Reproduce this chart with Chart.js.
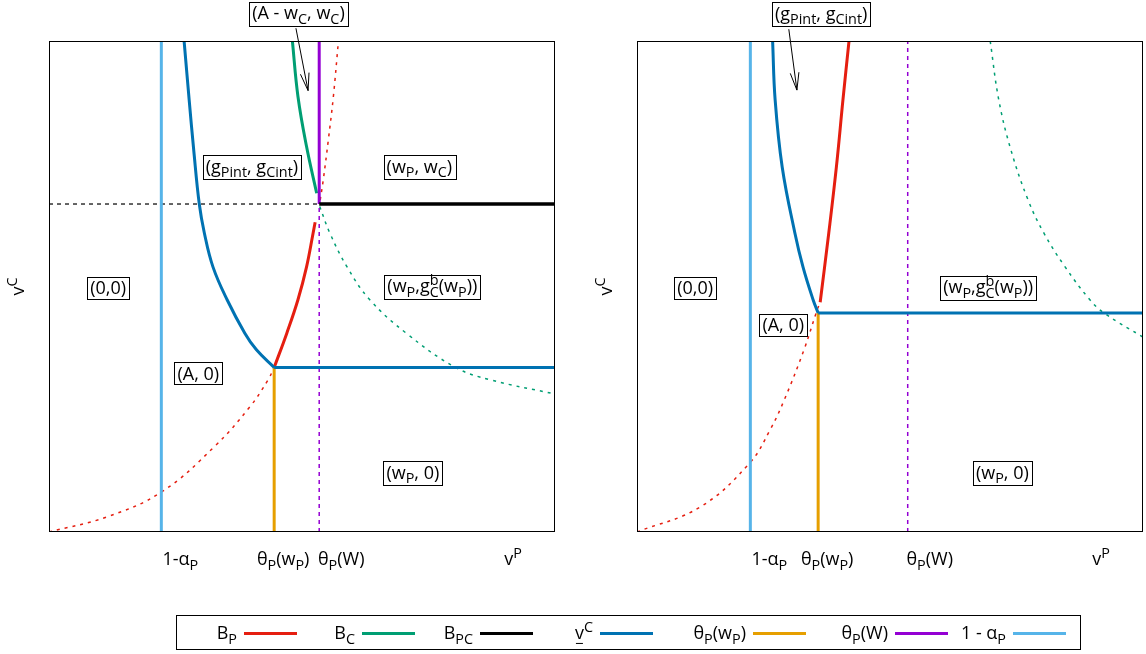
<!DOCTYPE html>
<html>
<head>
<meta charset="utf-8">
<script src="https://cdn.jsdelivr.net/npm/chart.js@4/dist/chart.umd.min.js"></script>
<style>
  html, body { margin: 0; padding: 0; background: #fff; }
  #wrap { position: relative; width: 1146px; height: 654px; overflow: hidden; }
  canvas { position: absolute; top: 0; }
  #leftPanel { left: 0; width: 1146px; height: 654px; }
  #rightPanel { left: 573px; width: 573px; height: 600px; }
</style>
</head>
<body>
<div id="wrap">
  <canvas id="leftPanel" width="1146" height="654"></canvas>
  <canvas id="rightPanel" width="573" height="600"></canvas>
</div>
<script>
// ---------- series colours ----------
const COLORS = {
  BP: '#e51e10', BC: '#009e73', BPC: '#000000', vC: '#0072b2',
  thetaWp: '#e69f00', thetaW: '#9400d3', oneMinusAlpha: '#56b4e9'
};

// ---------- left panel values (v^P on x, v^C on y) ----------
const L_oneMinusAlpha = 0.222;
const L_thetaWp = 0.445;
const L_thetaW = 0.534;
const L_vCFloor = 0.335;
const L_wC = 0.668;

const L_vC = [[0.267,1.000],[0.277,0.880],[0.286,0.778],[0.297,0.668],[0.307,0.609],[0.324,0.540],[0.352,0.473],[0.387,0.405],[0.410,0.371],[0.445,0.335]];
const L_BP_below = [[0.000,0.000],[0.115,0.031],[0.223,0.082],[0.327,0.174],[0.397,0.255],[0.433,0.310],[0.445,0.335]];
const L_BP = [[0.445,0.335],[0.470,0.405],[0.492,0.473],[0.509,0.540],[0.522,0.609],[0.526,0.631]];
const L_BP_above = [[0.536,0.676],[0.542,0.717],[0.552,0.798],[0.562,0.887],[0.572,1.000]];
const L_BC = [[0.481,1.000],[0.492,0.887],[0.509,0.785],[0.529,0.690]];
const L_BC_beyond = [[0.535,0.663],[0.555,0.609],[0.589,0.540],[0.634,0.473],[0.706,0.405],[0.802,0.336],[0.872,0.310],[1.000,0.281]];

// ---------- right panel values ----------
const R_oneMinusAlpha = 0.224;
const R_thetaWp = 0.358;
const R_thetaW = 0.535;
const R_vCFloor = 0.446;

const R_vC = [[0.268,1.000],[0.273,0.880],[0.287,0.743],[0.312,0.609],[0.328,0.540],[0.348,0.473],[0.358,0.446]];
const R_BP_below = [[0.000,0.000],[0.125,0.051],[0.223,0.141],[0.263,0.208],[0.291,0.269],[0.330,0.371],[0.354,0.446],[0.362,0.468]];
const R_BP = [[0.362,0.468],[0.379,0.609],[0.394,0.743],[0.407,0.880],[0.419,1.000]];
const R_BC_beyond = [[0.698,1.000],[0.715,0.880],[0.739,0.778],[0.773,0.676],[0.804,0.609],[0.846,0.540],[0.895,0.473],[0.923,0.446],[1.000,0.397]];

// ---------- tick labels ----------
const xTickText = ['1-α_P', 'θ_P(w_P)', 'θ_P(W)', 'v^P'];
const L_xTicks = [L_oneMinusAlpha, L_thetaWp, L_thetaW, 0.917];
const R_xTicks = [R_oneMinusAlpha, R_thetaWp, R_thetaW, 0.917];
const yTitle = 'v^C';

// ---------- region labels ----------
const L_regionText = ['(A - w_C, w_C)', '(g_{Pint}, g_{Cint})', '(w_P, w_C)', '(0,0)', '(w_P,g_C^b(w_P))', '(A, 0)', '(w_P, 0)'];
const L_regionX = [0.493, 0.401, 0.732, 0.117, 0.7575, 0.295, 0.719];
const L_regionY = [1.057, 0.745, 0.745, 0.497, 0.501, 0.323, 0.121];
const L_arrow = [[0.488, 1.026], [0.512, 0.899]];

const R_regionText = ['(g_{Pint}, g_{Cint})', '(0,0)', '(w_P,g_C^b(w_P))', '(A, 0)', '(w_P, 0)'];
const R_regionX = [0.364, 0.115, 0.694, 0.289, 0.722];
const R_regionY = [1.056, 0.497, 0.499, 0.422, 0.121];
const R_arrow = [[0.300, 1.024], [0.316, 0.900]];

// ---------- legend ----------
const legendText = ['B_P', 'B_C', 'B_{PC}', 'v\u0332^C', 'θ_P(w_P)', 'θ_P(W)', '1 - α_P'];
const legendColor = [COLORS.BP, COLORS.BC, COLORS.BPC, COLORS.vC, COLORS.thetaWp, COLORS.thetaW, COLORS.oneMinusAlpha];

// ---------- styling ----------
const FONT = '"Open Sans", "Noto Sans", sans-serif';
const FS = 18;
const SUB_SCALE = 0.8;
const CURVE_TENSION = 0.4;
const tickLabelShift = [19, 9, 22, 0];
const legendSampleStart = [244, 362, 480, 600, 753, 895, 1013];
const legendSampleLen = 53;

// ---------- enhanced text (sub/superscripts) ----------
function parseRich(s) {
  const out = []; let buf = ''; let i = 0;
  const flush = () => { if (buf) { out.push({ t: buf, k: 'n' }); buf = ''; } };
  while (i < s.length) {
    const c = s[i];
    if (c === '_' || c === '^') {
      flush();
      let t;
      if (s[i + 1] === '{') { const j = s.indexOf('}', i + 2); t = s.slice(i + 2, j); i = j + 1; }
      else { t = s[i + 1]; i += 2; }
      out.push({ t, k: c === '_' ? 'sub' : 'sup' });
    } else if (c === '\u0332') {
      flush(); out.push({ k: 'ul' }); i++;
    } else { buf += c; i++; }
  }
  flush();
  return out;
}

function layoutRich(ctx, str, size) {
  const toks = parseRich(str);
  const items = []; let x = 0; let last = null; let hasSub = false;
  for (const tk of toks) {
    if (tk.k === 'ul') { if (last) items.push({ ul: true, x: last.x, w: last.w, fs: last.fs }); continue; }
    const fs = tk.k === 'n' ? size : size * SUB_SCALE;
    ctx.font = fs + 'px ' + FONT;
    const w = ctx.measureText(tk.t).width;
    let sx = x;
    if (tk.k === 'sup' && last && last.k === 'sub') { sx = last.x; x = Math.max(last.x + last.w, sx + w); }
    else x = sx + w;
    if (tk.k === 'sub') hasSub = true;
    const dy = tk.k === 'sub' ? size * 0.24 : (tk.k === 'sup' ? -size * 0.42 : 0);
    const it = { t: tk.t, k: tk.k, x: sx, w, fs, dy };
    items.push(it); last = it;
  }
  return { items, width: x, hasSub };
}

function drawRich(ctx, str, cx, cy, size, align, color) {
  const lay = layoutRich(ctx, str, size);
  let x0 = cx;
  if (align === 'center') x0 = cx - lay.width / 2;
  else if (align === 'right') x0 = cx - lay.width;
  const base = cy + size * 0.36;
  ctx.save();
  ctx.fillStyle = color || '#000';
  ctx.strokeStyle = color || '#000';
  ctx.textBaseline = 'alphabetic';
  ctx.textAlign = 'left';
  for (const it of lay.items) {
    if (it.ul) {
      ctx.lineWidth = 1;
      ctx.beginPath();
      ctx.moveTo(x0 + it.x + 1, base + size * 0.22);
      ctx.lineTo(x0 + it.x + it.w - 1, base + size * 0.22);
      ctx.stroke();
      continue;
    }
    ctx.font = it.fs + 'px ' + FONT;
    ctx.fillText(it.t, x0 + it.x, base + it.dy);
  }
  ctx.restore();
  return { x0, width: lay.width, hasSub: lay.hasSub };
}

function drawBoxed(ctx, str, cx, cy, size) {
  const r = drawRich(ctx, str, cx, cy, size, 'center', '#000');
  const top = cy - size * 0.62;
  const bottom = cy + size * 0.62 + (r.hasSub ? size * 0.1 : 0);
  ctx.save();
  ctx.strokeStyle = '#000';
  ctx.lineWidth = 1;
  ctx.strokeRect(Math.round(r.x0 - 3) + 0.5, Math.round(top) + 0.5, Math.round(r.width + 6), Math.round(bottom - top));
  ctx.restore();
}

function drawArrow(ctx, x1, y1, x2, y2) {
  const ang = Math.atan2(y2 - y1, x2 - x1);
  const L = 18, spread = 14 * Math.PI / 180;
  ctx.save();
  ctx.strokeStyle = '#000';
  ctx.lineWidth = 1;
  ctx.beginPath();
  ctx.moveTo(x1, y1); ctx.lineTo(x2, y2);
  ctx.moveTo(x2 - L * Math.cos(ang - spread), y2 - L * Math.sin(ang - spread));
  ctx.lineTo(x2, y2);
  ctx.lineTo(x2 - L * Math.cos(ang + spread), y2 - L * Math.sin(ang + spread));
  ctx.stroke();
  ctx.restore();
}

// ---------- dataset helpers ----------
const pts = arr => arr.map(p => ({ x: p[0], y: p[1] }));
function series(data, color, width, dash, curved) {
  return {
    data: pts(data), borderColor: color, backgroundColor: color, borderWidth: width,
    borderDash: dash || [], showLine: true, pointRadius: 0, pointHoverRadius: 0, fill: false,
    tension: curved ? CURVE_TENSION : 0,
    borderCapStyle: 'butt', borderJoinStyle: 'round'
  };
}
const vline = (x, y0, y1) => [[x, y0], [x, y1]];
const hline = (y, x0, x1) => [[x0, y], [x1, y]];
const DOT = [3, 5];
const DASH = [4, 4];

// ---------- overlay plugin: frame, labels, arrows, titles, legend ----------
function panelPlugin(cfg) {
  return {
    id: 'panelDecor',
    afterDatasetsDraw(chart) {
      const ctx = chart.ctx;
      const a = chart.chartArea;
      const xs = chart.scales.x, ys = chart.scales.y;
      ctx.save();
      ctx.strokeStyle = '#000';
      ctx.lineWidth = 1;
      ctx.strokeRect(a.left + 0.5, a.top + 0.5, a.right - a.left - 1, a.bottom - a.top - 1);
      ctx.restore();

      cfg.ticks.forEach((v, i) => {
        drawRich(ctx, xTickText[i], xs.getPixelForValue(v) + tickLabelShift[i], a.bottom + 27, FS, 'center', '#000');
      });

      ctx.save();
      ctx.translate(a.left - 31, (a.top + a.bottom) / 2);
      ctx.rotate(-Math.PI / 2);
      drawRich(ctx, yTitle, 0, 0, FS, 'center', '#000');
      ctx.restore();

      cfg.text.forEach((t, i) => {
        drawBoxed(ctx, t, xs.getPixelForValue(cfg.tx[i]), ys.getPixelForValue(cfg.ty[i]), FS);
      });
      const [p, q] = cfg.arrow;
      drawArrow(ctx, xs.getPixelForValue(p[0]), ys.getPixelForValue(p[1]), xs.getPixelForValue(q[0]), ys.getPixelForValue(q[1]));

      if (cfg.legend) {
        ctx.save();
        ctx.strokeStyle = '#000';
        ctx.lineWidth = 1;
        ctx.strokeRect(176.5, 615.5, 904, 34);
        const ly = 633;
        legendText.forEach((t, i) => {
          const sx = legendSampleStart[i];
          drawRich(ctx, t, sx - 7, ly, FS, 'right', '#000');
          ctx.strokeStyle = legendColor[i];
          ctx.lineWidth = 3;
          ctx.beginPath();
          ctx.moveTo(sx, ly + 0.5); ctx.lineTo(sx + legendSampleLen, ly + 0.5);
          ctx.stroke();
        });
        ctx.restore();
      }
    }
  };
}

function makePanel(canvasId, datasets, padding, cfg) {
  return new Chart(document.getElementById(canvasId), {
    type: 'scatter',
    data: { datasets },
    options: {
      responsive: false,
      devicePixelRatio: 1,
      animation: false,
      events: [],
      layout: { padding },
      scales: {
        x: { type: 'linear', min: 0, max: 1, display: false },
        y: { type: 'linear', min: 0, max: 1, display: false }
      },
      plugins: { legend: { display: false }, tooltip: { enabled: false } }
    },
    plugins: [panelPlugin(cfg)]
  });
}

// ---------- left panel ----------
makePanel('leftPanel', [
  series(hline(L_vCFloor, L_thetaWp, 1), COLORS.vC, 3),
  series(L_vC, COLORS.vC, 3, null, true),
  series(vline(L_thetaWp, 0, L_vCFloor), COLORS.thetaWp, 3),
  series(L_BP, COLORS.BP, 3, null, true),
  series(hline(L_wC, L_thetaW, 1), COLORS.BPC, 3.5),
  series(vline(L_thetaW, L_wC, 1), COLORS.thetaW, 3),
  series(L_BC, COLORS.BC, 3, null, true),
  series(vline(L_oneMinusAlpha, 0, 1), COLORS.oneMinusAlpha, 3),
  series(hline(L_wC, 0, L_thetaW), COLORS.BPC, 1.2, DASH),
  series(vline(L_thetaW, 0, L_wC), COLORS.thetaW, 1.5, DASH),
  series(L_BP_below, COLORS.BP, 1.5, DOT, true),
  series(L_BP_above, COLORS.BP, 1.5, DOT, true),
  series(L_BC_beyond, COLORS.BC, 1.5, DOT, true)
], { left: 49, top: 41, right: 591, bottom: 122 },
{ ticks: L_xTicks, text: L_regionText, tx: L_regionX, ty: L_regionY, arrow: L_arrow, legend: true });

// ---------- right panel ----------
makePanel('rightPanel', [
  series(hline(R_vCFloor, R_thetaWp, 1), COLORS.vC, 3),
  series(R_vC, COLORS.vC, 3, null, true),
  series(vline(R_thetaWp, 0, R_vCFloor), COLORS.thetaWp, 3),
  series(R_BP, COLORS.BP, 3, null, true),
  series(vline(R_oneMinusAlpha, 0, 1), COLORS.oneMinusAlpha, 3),
  series(vline(R_thetaW, 0, 1), COLORS.thetaW, 1.5, DASH),
  series(R_BP_below, COLORS.BP, 1.5, DOT, true),
  series(R_BC_beyond, COLORS.BC, 1.5, DOT, true)
], { left: 64, top: 41, right: 3, bottom: 68 },
{ ticks: R_xTicks, text: R_regionText, tx: R_regionX, ty: R_regionY, arrow: R_arrow, legend: false });
</script>
</body>
</html>
